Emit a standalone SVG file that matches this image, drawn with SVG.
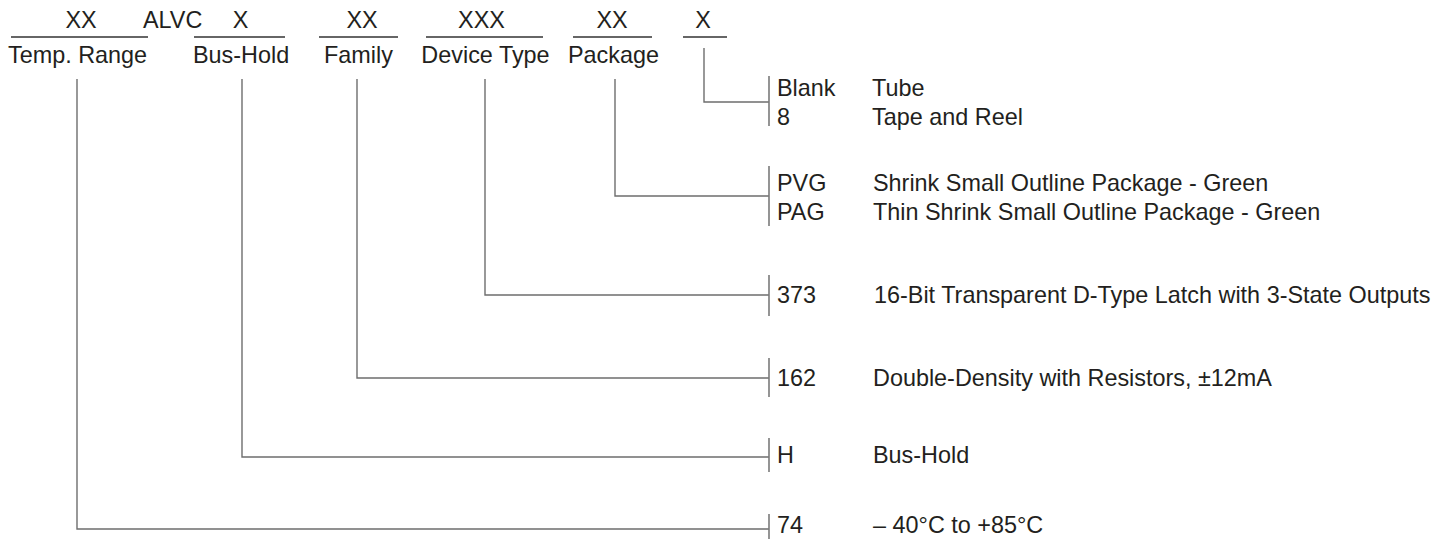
<svg xmlns="http://www.w3.org/2000/svg" width="1442" height="539" viewBox="0 0 1442 539">
<style>
text{font-family:"Liberation Sans",Arial,sans-serif;font-size:23.4px;fill:#231f20}
.m{text-anchor:middle}
.ul{stroke:#333;stroke-width:1.3;fill:none}
.c{stroke:#6e6e6e;stroke-width:1.4;fill:none}
.b{stroke:#7a7a7a;stroke-width:1.6;fill:none}
</style>
<rect width="1442" height="539" fill="#fff"/>
<g id="header">
<g id="temp-range">
<text x="81" y="28" class="m">XX</text>
<line class="ul" x1="11" y1="37" x2="148" y2="37"/>
<text x="8" y="63">Temp. Range</text>
</g>
<text x="143" y="28">ALVC</text>
<g id="bus-hold">
<text x="240.5" y="28" class="m">X</text>
<line class="ul" x1="194" y1="37" x2="285" y2="37"/>
<text x="193" y="63">Bus-Hold</text>
</g>
<g id="family">
<text x="362" y="28" class="m">XX</text>
<line class="ul" x1="319" y1="37" x2="398" y2="37"/>
<text x="358.5" y="63" class="m">Family</text>
</g>
<g id="device-type">
<text x="481.5" y="28" class="m">XXX</text>
<line class="ul" x1="426" y1="37" x2="543" y2="37"/>
<text x="485.5" y="63" class="m">Device Type</text>
</g>
<g id="package">
<text x="612" y="28" class="m">XX</text>
<line class="ul" x1="573" y1="37" x2="652" y2="37"/>
<text x="613.5" y="63" class="m">Package</text>
</g>
<g id="packing">
<text x="703" y="28" class="m">X</text>
<line class="ul" x1="683" y1="37" x2="727" y2="37"/>
</g>
</g>
<g id="connectors">
<path class="c" d="M704 48 V102 H769"/>
<path class="c" d="M615 79 V196 H769"/>
<path class="c" d="M485 79 V295 H769"/>
<path class="c" d="M357 79 V378 H769"/>
<path class="c" d="M242 79 V457 H769"/>
<path class="c" d="M77 79 V529 H769"/>
</g>
<g id="opt-packing">
<line class="b" x1="769" y1="76" x2="769" y2="126"/>
<text x="777" y="96">Blank</text><text x="872" y="96">Tube</text>
<text x="777" y="125">8</text><text x="872" y="125">Tape and Reel</text>
</g>
<g id="opt-package">
<line class="b" x1="769" y1="166" x2="769" y2="226"/>
<text x="777" y="191">PVG</text><text x="873" y="191">Shrink Small Outline Package - Green</text>
<text x="777" y="220">PAG</text><text x="873" y="220">Thin Shrink Small Outline Package - Green</text>
</g>
<g id="opt-device">
<line class="b" x1="769" y1="275" x2="769" y2="316"/>
<text x="777" y="303">373</text><text x="874" y="303">16-Bit Transparent D-Type Latch with 3-State Outputs</text>
</g>
<g id="opt-family">
<line class="b" x1="769" y1="358" x2="769" y2="397"/>
<text x="777" y="386">162</text><text x="873" y="386">Double-Density with Resistors, ±12mA</text>
</g>
<g id="opt-bushold">
<line class="b" x1="769" y1="438" x2="769" y2="472"/>
<text x="777" y="463">H</text><text x="873" y="463">Bus-Hold</text>
</g>
<g id="opt-temp">
<line class="b" x1="769" y1="514" x2="769" y2="539"/>
<text x="777" y="533">74</text><text x="873" y="533">– 40°C to +85°C</text>
</g>
</svg>
